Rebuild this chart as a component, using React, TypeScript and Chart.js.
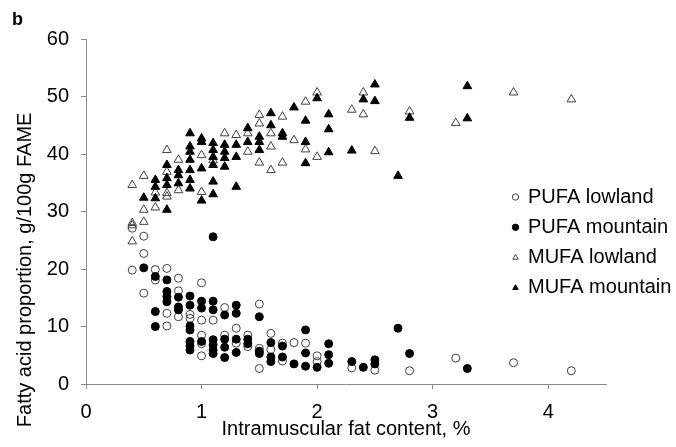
import React, { useEffect, useRef } from "react";
import { Chart, registerables } from "chart.js";

Chart.register(...registerables);

const FONT = "'Liberation Sans', Arial, sans-serif";

const seriesNames = ["PUFA lowland", "PUFA mountain", "MUFA lowland", "MUFA mountain"];
const xTicks = [0, 1, 2, 3, 4];
const yTicks = [0, 10, 20, 30, 40, 50, 60];
const xTitle = "Intramuscular fat content, %";
const yTitle = "Fatty acid proportion, g/100g FAME";

const pufaLowland: [number, number][] = [
  [0.4, 27.1], [0.4, 19.8], [0.5, 25.7], [0.5, 22.7], [0.5, 15.8],
  [0.6, 19.9], [0.6, 18.1], [0.7, 20.1], [0.7, 12.3], [0.7, 10.1],
  [0.8, 18.4], [0.8, 16.2], [0.8, 11.7], [0.9, 12.1], [0.9, 11.4],
  [1.0, 17.6], [1.0, 11.1], [1.0, 8.5], [1.0, 7.0], [1.0, 4.9],
  [1.1, 11.1], [1.2, 13.3], [1.2, 8.5], [1.3, 9.7], [1.3, 7.1],
  [1.4, 8.5], [1.4, 6.5], [1.5, 13.9], [1.5, 6.2], [1.5, 2.7],
  [1.6, 8.8], [1.6, 6.0], [1.7, 7.1], [1.7, 4.0], [1.8, 7.2],
  [1.9, 7.1], [2.0, 4.9], [2.0, 3.9], [2.3, 2.8], [2.5, 2.4],
  [2.8, 2.3], [3.2, 4.5], [3.7, 3.7], [4.2, 2.3],
];

const pufaMountain: [number, number][] = [
  [0.5, 20.2], [0.6, 18.7], [0.6, 12.6], [0.6, 10.0],
  [0.7, 18.1], [0.7, 16.1], [0.7, 15.2], [0.7, 14.3],
  [0.8, 15.1], [0.8, 13.4], [0.8, 12.9],
  [0.9, 15.3], [0.9, 13.7], [0.9, 10.1], [0.9, 9.4], [0.9, 7.4], [0.9, 6.6], [0.9, 5.9],
  [1.0, 14.4], [1.0, 13.2], [1.0, 7.4],
  [1.1, 25.6], [1.1, 14.4], [1.1, 12.9], [1.1, 7.7], [1.1, 6.8], [1.1, 5.9], [1.1, 5.3],
  [1.2, 12.0], [1.2, 7.8], [1.2, 6.4], [1.2, 4.6],
  [1.3, 13.7], [1.3, 12.3], [1.3, 7.8], [1.3, 5.5],
  [1.4, 7.8], [1.4, 7.0], [1.5, 11.7], [1.5, 5.7], [1.5, 5.3],
  [1.6, 7.2], [1.6, 4.7], [1.6, 3.9], [1.7, 6.6], [1.7, 4.7],
  [1.8, 3.5], [1.9, 9.4], [1.9, 5.4], [1.9, 3.1], [2.0, 2.9],
  [2.1, 7.0], [2.1, 5.1], [2.1, 3.6], [2.3, 3.9], [2.4, 2.9],
  [2.5, 4.2], [2.5, 3.5], [2.7, 9.7], [2.8, 5.3], [3.3, 2.7],
];

const mufaLowland: [number, number][] = [
  [0.4, 34.6], [0.4, 28.0], [0.4, 27.6], [0.4, 24.8],
  [0.5, 36.2], [0.5, 30.3], [0.5, 28.2], [0.6, 30.7], [0.6, 33.3],
  [0.7, 40.7], [0.7, 36.9], [0.7, 33.2], [0.7, 32.6],
  [0.8, 39.0], [0.8, 33.7], [1.0, 39.8], [1.0, 33.4], [1.1, 38.9],
  [1.2, 43.6], [1.3, 43.3], [1.4, 43.6], [1.4, 40.4],
  [1.5, 46.8], [1.5, 45.3], [1.5, 38.5], [1.6, 43.6], [1.6, 41.3], [1.6, 37.2],
  [1.7, 46.5], [1.7, 38.5], [1.8, 42.4], [1.9, 49.1], [1.9, 40.8],
  [2.0, 50.7], [2.0, 39.5], [2.3, 47.7], [2.4, 50.7], [2.4, 46.9],
  [2.5, 40.5], [2.8, 47.4], [3.2, 45.4], [3.7, 50.7], [4.2, 49.5],
];

const mufaMountain: [number, number][] = [
  [0.5, 32.4], [0.6, 35.5], [0.6, 34.3], [0.6, 32.3],
  [0.7, 38.1], [0.7, 35.8], [0.7, 34.6], [0.7, 30.3],
  [0.8, 37.2], [0.8, 36.3], [0.8, 34.9],
  [0.9, 43.6], [0.9, 41.3], [0.9, 40.4], [0.9, 39.0], [0.9, 37.2], [0.9, 35.5], [0.9, 34.0],
  [1.0, 42.7], [1.0, 42.1], [1.0, 37.5], [1.0, 31.9],
  [1.1, 41.9], [1.1, 40.7], [1.1, 39.5], [1.1, 38.1], [1.1, 35.2], [1.1, 33.0],
  [1.2, 41.6], [1.2, 40.4], [1.2, 39.3], [1.2, 37.8],
  [1.3, 41.6], [1.3, 39.5], [1.3, 34.3], [1.4, 44.5], [1.4, 42.1],
  [1.5, 43.0], [1.5, 42.1], [1.5, 40.7], [1.6, 47.1], [1.6, 45.0],
  [1.7, 43.6], [1.7, 43.0], [1.8, 48.1], [1.9, 45.8], [1.9, 42.1], [1.9, 38.4],
  [2.0, 49.7], [2.1, 46.9], [2.1, 44.3], [2.1, 40.3], [2.3, 40.6],
  [2.4, 49.5], [2.5, 52.1], [2.5, 49.2], [2.7, 36.2], [2.8, 46.3],
  [3.3, 51.8], [3.3, 46.2],
];

const toPts = (arr: [number, number][]) => arr.map(([x, y]) => ({ x, y }));

const legendPlacer = {
  id: "legendPlacer",
  afterLayout(chart: any) {
    const lg = chart.legend;
    const ca = chart.chartArea;
    if (!lg || !ca) return;
    const left = ca.right - 103.3;
    const top = ca.top + 137.7;
    lg.left = left;
    lg.top = top;
    lg.right = left + 170;
    lg.bottom = ca.bottom;
    lg.width = 170;
    lg.height = ca.bottom - top;
  },
};

export default function App() {
  const ref = useRef<HTMLCanvasElement | null>(null);

  useEffect(() => {
    if (!ref.current) return;
    Chart.defaults.font.family = FONT;
    const open = "#404040";
    const chart = new Chart(ref.current, {
      type: "scatter",
      data: {
        datasets: [
          {
            label: seriesNames[0],
            data: toPts(pufaLowland),
            pointStyle: "circle",
            pointRadius: 4,
            backgroundColor: "rgba(0,0,0,0)",
            borderColor: open,
            borderWidth: 1,
            order: 3,
          },
          {
            label: seriesNames[1],
            data: toPts(pufaMountain),
            pointStyle: "circle",
            pointRadius: 4,
            backgroundColor: "#000",
            borderColor: "#000",
            borderWidth: 1,
            order: 2,
          },
          {
            label: seriesNames[2],
            data: toPts(mufaLowland),
            pointStyle: "triangle",
            pointRadius: 5,
            backgroundColor: "rgba(0,0,0,0)",
            borderColor: open,
            borderWidth: 1,
            order: 1,
          },
          {
            label: seriesNames[3],
            data: toPts(mufaMountain),
            pointStyle: "triangle",
            pointRadius: 5,
            backgroundColor: "#000",
            borderColor: "#000",
            borderWidth: 1,
            order: 0,
          },
        ],
      },
      options: {
        responsive: false,
        animation: false,
        devicePixelRatio: 1,
        layout: { padding: { left: 12, top: 0, right: 70, bottom: 0 } },
        plugins: {
          title: {
            display: true,
            text: "b",
            align: "start",
            color: "#000",
            font: { size: 18, weight: "bold", family: FONT, lineHeight: 1.2 },
            padding: { top: 9, bottom: 8.4 },
          },
          legend: {
            position: "chartArea" as any,
            align: "start",
            labels: {
              usePointStyle: true,
              boxWidth: 5,
              boxHeight: 4.5,
              padding: 10.3,
              color: "#000",
              font: { size: 20, family: FONT },
              sort: (a: any, b: any) => a.datasetIndex - b.datasetIndex,
            },
          },
          tooltip: { enabled: false },
        },
        scales: {
          x: {
            type: "linear",
            min: 0,
            max: 4.5,
            afterFit: (s: any) => { s.height = 63; },
            afterBuildTicks: (s: any) => { s.ticks = xTicks.map((v) => ({ value: v })); },
            ticks: {
              stepSize: 1,
              includeBounds: false,
              padding: 11,
              color: "#000",
              font: { size: 20, family: FONT, lineHeight: 1.2 },
            },
            grid: { drawOnChartArea: false, drawTicks: true, tickLength: 5, color: "#898989" },
            border: { color: "#898989", width: 1 },
            title: {
              display: true,
              text: xTitle,
              color: "#000",
              font: { size: 20, family: FONT, lineHeight: 1.2 },
              padding: { top: 0, bottom: 5.5 },
            },
          },
          y: {
            type: "linear",
            min: 0,
            max: 60,
            afterFit: (s: any) => { s.width = 74; },
            afterBuildTicks: (s: any) => { s.ticks = yTicks.map((v) => ({ value: v })); },
            ticks: {
              stepSize: 10,
              padding: 12,
              color: "#000",
              font: { size: 20, family: FONT, lineHeight: 1.2 },
            },
            grid: { drawOnChartArea: false, drawTicks: true, tickLength: 5, color: "#898989" },
            border: { color: "#898989", width: 1 },
            title: {
              display: true,
              text: yTitle + " ".repeat(21),
              color: "#000",
              font: { size: 20, family: FONT, lineHeight: 1.2 },
              padding: { top: 1, bottom: 0 },
            },
          },
        },
      },
      plugins: [legendPlacer],
    });
    return () => chart.destroy();
  }, []);

  return (
    <div style={{ position: "fixed", left: 0, top: 0, width: 676, height: 447, background: "#fff" }}>
      <canvas ref={ref} width={676} height={447} style={{ width: 676, height: 447 }} />
    </div>
  );
}
